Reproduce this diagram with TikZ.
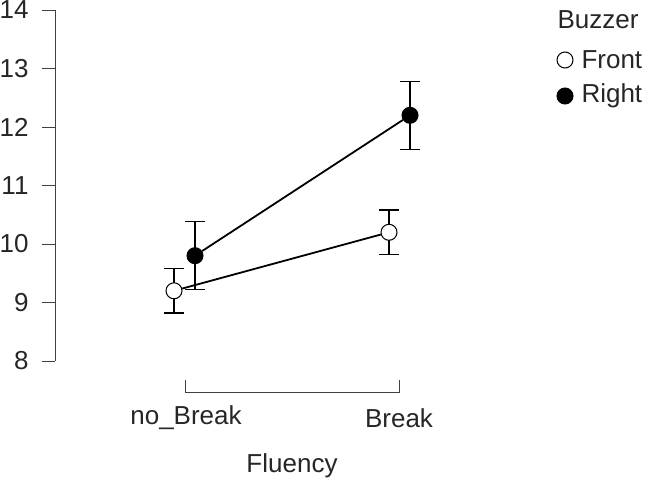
\documentclass[tikz,border=0pt]{standalone}
\usepackage{fontspec}
\setmainfont{Liberation Sans}
\tikzset{
  axisline/.style={draw=black!75, line width=0.8pt},
  errbar/.style={line width=1.2pt},
  meanline/.style={line width=1.8pt},
  frontpt/.style={circle, draw, line width=1pt, fill=white, minimum size=16pt, inner sep=0pt},
  rightpt/.style={circle, draw, line width=1pt, fill=black, minimum size=16pt, inner sep=0pt},
  lab/.style={font=\fontsize{26}{30}\selectfont, text=black!85},
  ticklab/.style={lab, anchor=east}
}
\newcommand{\vy}[1]{361-(#1-8)*58.5}
\begin{document}
\begin{tikzpicture}[x=1pt,y=-1pt]
\useasboundingbox (0,0) rectangle (653,484);
% y axis
\draw[axisline] (55,{\vy{8}}) -- (55,{\vy{14}});
\foreach \v in {8,...,14}{
  \draw[axisline] (42,{\vy{\v}}) -- (55,{\vy{\v}});
  \node[ticklab] at (32,{\vy{\v}}) {\v};
}
% x axis bracket
\draw[axisline] (185,380) -- (185,392) -- (399,392) -- (399,380);
\node[lab] at (186,418) {no\_Break};
\node[lab] at (399,418) {Break};
\node[lab] at (292,466) {Fluency};
% error bars
\foreach \x/\lo/\hi in {174/8.82/9.58, 195/9.22/10.38, 389/9.82/10.58, 410/11.62/12.78}{
  \draw[errbar] (\x,{\vy{\lo}}) -- (\x,{\vy{\hi}});
  \draw[errbar] (\x-10,{\vy{\lo}}) -- (\x+10,{\vy{\lo}});
  \draw[errbar] (\x-10,{\vy{\hi}}) -- (\x+10,{\vy{\hi}});
}
% means
\node[frontpt] (fnb) at (174,{\vy{9.2}}) {};
\node[frontpt] (fb) at (389,{\vy{10.2}}) {};
\node[rightpt] (rnb) at (195,{\vy{9.8}}) {};
\node[rightpt] (rb) at (410,{\vy{12.2}}) {};
\draw[meanline] (fnb) -- (fb);
\draw[meanline] (rnb) -- (rb);
% legend
\node[lab] at (598,20) {Buzzer};
\node[frontpt] (lf) at (565,60) {};
\node[rightpt] (lr) at (565,96) {};
\node[lab, anchor=west] at (578,60) {Front};
\node[lab, anchor=west] at (578,96) {Right};
\end{tikzpicture}
\end{document}
